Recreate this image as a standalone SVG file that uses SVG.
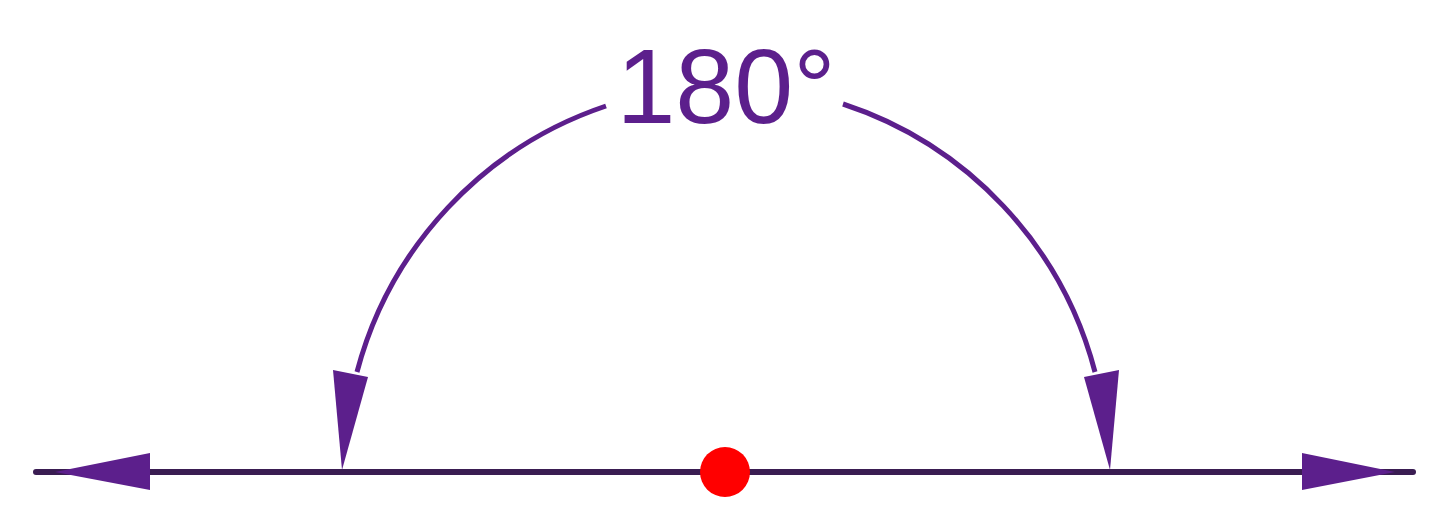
<svg xmlns="http://www.w3.org/2000/svg" width="1440" height="530" viewBox="0 0 1440 530">
<style>
.base{stroke:#3a1d52;stroke-width:6;fill:none;stroke-linecap:round}
.arc{stroke:#5c1f8c;stroke-width:5;fill:none}
.head{fill:#5c1f8c}
.lbl{font-family:"Liberation Sans",Arial,sans-serif;font-size:106px;fill:#5c1f8c}
</style>
<rect width="1440" height="530" fill="#ffffff"/>
<g id="connectors">
<line class="base" x1="36" y1="472" x2="1413" y2="472"/>
<polygon class="head" points="55,472 150,453 150,490"/>
<polygon class="head" points="1395,472 1302,453 1302,490"/>
<path class="arc" d="M 357 372 A 384 384 0 0 1 606 106"/>
<path class="arc" d="M 843 104 A 384 384 0 0 1 1095 372"/>
<polygon class="head" points="342,470 333,370 368,377"/>
<polygon class="head" points="1110,470 1119,370 1084,377"/>
</g>
<g id="vertex">
<circle cx="725" cy="472" r="25" fill="#ff0000"/>
</g>
<g id="label">
<text class="lbl" x="726" y="123" text-anchor="middle">180°</text>
</g>
</svg>
